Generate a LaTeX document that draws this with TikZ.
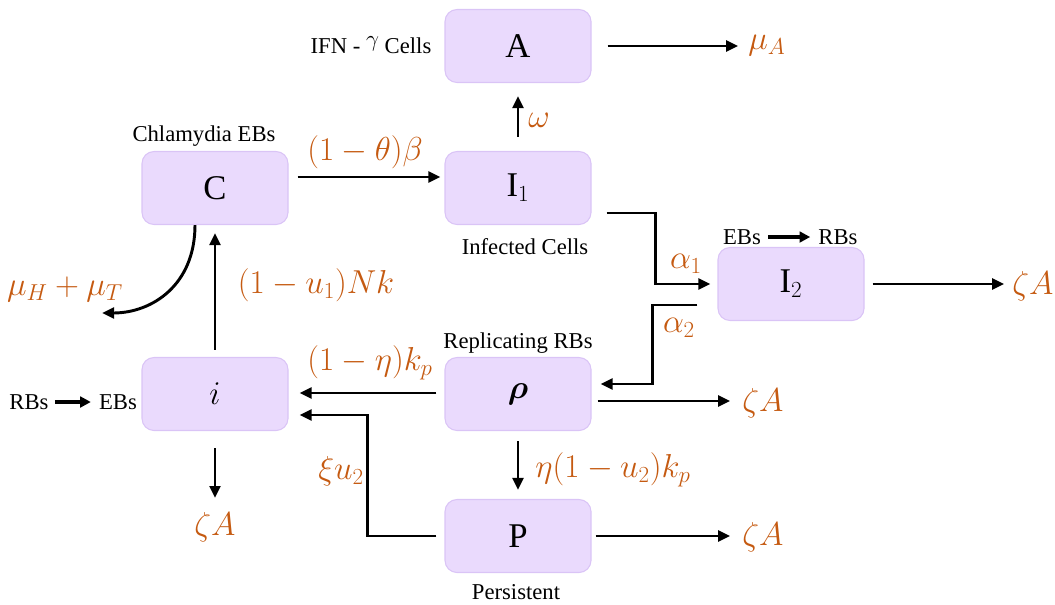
\documentclass[tikz,border=0pt]{standalone}
\usepackage{amsmath}
\usepackage{fontspec}
\setmainfont{Liberation Serif}
\usetikzlibrary{arrows.meta}
\definecolor{boxfill}{RGB}{234,218,253}
\definecolor{boxline}{RGB}{218,196,246}
\definecolor{lab}{RGB}{197,90,17}
\tikzset{
  comp/.style={draw=boxline, line width=0.8pt, fill=boxfill, rounded corners=9pt,
    minimum width=109.5pt, minimum height=54.75pt, inner sep=0pt,
    font=\fontsize{26}{30}\selectfont},
  flow/.style={line width=2.2pt, -{Triangle[length=9pt,width=8pt]}},
  small/.style={line width=3pt, -{Triangle[length=8pt,width=8pt]}},
  rate/.style={text=lab, inner sep=0pt, font=\fontsize{25}{29}\selectfont},
  note/.style={inner sep=0pt, font=\fontsize{17}{20}\selectfont}
}
\begin{document}
\begin{tikzpicture}[x=0.75pt,y=-0.75pt]
\useasboundingbox (0,0) rectangle (1055,604);
% compartments
\node[comp] (A)   at (518,46)  {$\mathrm{A}$};
\node[comp] (C)   at (215,188) {$\mathrm{C}$};
\node[comp] (I1)  at (518,188) {$\mathrm{I}_1$};
\node[comp] (I2)  at (791,284) {$\mathrm{I}_2$};
\node[comp] (i)   at (215,394) {$i$};
\node[comp] (rho) at (518,394) {$\boldsymbol{\rho}$};
\node[comp] (P)   at (518,536) {P};
% notes
\node[note] (ifn) at (371,45) {IFN - \raisebox{5pt}{$\gamma$} Cells};
\node[note] (chl) at (204,136) {Chlamydia EBs};
\node[note] (inf) at (525,247) {Infected Cells};
\node[note] (rep) at (518,343) {Replicating RBs};
\node[note] (per) at (516,592) {Persistent};
\node[note] (ebsR) at (742,237) {EBs};
\node[note] (rbsR) at (838,237) {RBs};
\node[note] (rbsL) at (29,402) {RBs};
\node[note] (ebsL) at (118,402) {EBs};
\draw[small] ([shift={(7,0)}]ebsR.east) -- ([shift={(-8,0)}]rbsR.west);
\draw[small] ([shift={(6,0)}]rbsL.east) -- ([shift={(-8,0)}]ebsL.west);
% rate labels
\node[rate] (muA) at (767,46)  {$\mu_A$};
\node[rate] (om)  at (539,120) {$\omega$};
\node[rate] (th)  at (365,152) {$(1-\theta)\beta$};
\node[rate] (a1)  at (686,264) {$\alpha_1$};
\node[rate] (a2)  at (679,328) {$\alpha_2$};
\node[rate] (zA1) at (1033,286) {$\zeta A$};
\node[rate] (zA2) at (763,403) {$\zeta A$};
\node[rate] (zA3) at (215,527) {$\zeta A$};
\node[rate] (zA4) at (763,537) {$\zeta A$};
\node[rate] (et)  at (370,363) {$(1-\eta)k_p$};
\node[rate] (xi)  at (341,471) {$\xi u_2$};
\node[rate] (eu)  at (613,470) {$\eta(1-u_2)k_p$};
\node[rate] (nk)  at (316,285) {$(1-u_1)Nk$};
\node[rate] (mu)  at (65,289)  {$\mu_H+\mu_T$};
\coordinate (cend) at (102,313);
% flows
\draw[flow] ([shift={(16,0)}]A.east) -- ([shift={(-10,0)}]muA.west);
\draw[flow] ([shift={(0,-14)}]I1.north) -- ([shift={(0,13)}]A.south);
\draw[flow] ([shift={(9,-11)}]C.east) -- ([shift={(-4,-11)}]I1.west);
\draw[flow] ([shift={(15,25)}]I1.east) -- ++(49,0) |- ([shift={(-7,0)}]I2.west);
\draw[flow] ([shift={(8,0)}]I2.east) -- ([shift={(-8,-2)}]zA1.west);
\draw[flow] ([shift={(-20,21)}]I2.west) -- ++(-45,0) |- ([shift={(9,-10)}]rho.east);
\draw[flow] ([shift={(6,7)}]rho.east) -- ([shift={(-12,-2)}]zA2.west);
\draw[flow] ([shift={(-8,-1)}]rho.west) -- ([shift={(11,-1)}]i.east);
\draw[flow] ([shift={(-8,0)}]P.west) -- ++(-69,0) |- ([shift={(11,21)}]i.east);
\draw[flow] ([shift={(0,10)}]rho.south) -- ([shift={(0,-9)}]P.north);
\draw[flow] ([shift={(4,0)}]P.east) -- ([shift={(-12,-1)}]zA4.west);
\draw[flow] ([shift={(0,17)}]i.south) -- ([shift={(0,-14)}]zA3.north);
\draw[flow] ([shift={(0,-7)}]i.north) -- ([shift={(0,8)}]C.south);
\draw[flow] ([shift={(-20,0)}]C.south) .. controls +(0,60) and +(50,0) .. (cend);
\end{tikzpicture}
\end{document}
